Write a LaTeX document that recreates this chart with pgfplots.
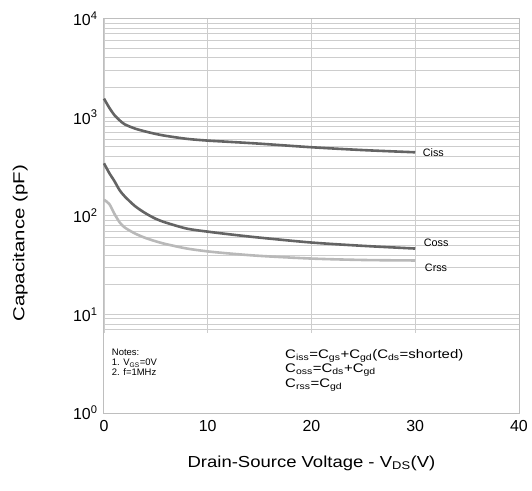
\documentclass[border=0pt]{standalone}
\usepackage{fontspec}
\setmainfont{Liberation Sans}
\usepackage{graphicx}
\usepackage{pgfplots}
\pgfplotsset{compat=1.18}

\definecolor{gridgray}{RGB}{205,205,205}
\definecolor{boxgray}{RGB}{190,190,190}
\definecolor{darkcurve}{RGB}{100,100,100}
\definecolor{lightcurve}{RGB}{185,185,185}

\begin{document}
\begin{tikzpicture}
\begin{semilogyaxis}[
    at={(0,0)}, anchor=south west,
    scale only axis,
    width=415bp, height=394.5bp,
    xmin=0, xmax=40, ymin=1, ymax=10000,
    xtick={0,10,20,30,40},
    ytick={1,10,100,1000,10000},
    yticklabels={10\textsuperscript{0},10\textsuperscript{1},10\textsuperscript{2},10\textsuperscript{3},10\textsuperscript{4}},
    /pgf/number format/assume math mode=true,
    tick label style={font=\fontsize{16}{18}\selectfont},
    major tick length=0pt, minor tick length=0pt,
    xmajorgrids, ymajorgrids, yminorgrids,
    grid style={gridgray, line width=0.8bp},
    minor grid style={gridgray, line width=0.8bp},
    axis line style={boxgray, line width=1bp},
    xlabel={\scalebox{1.16}[1]{Drain-Source Voltage - V\textsubscript{DS}(V)}},
    ylabel={\scalebox{1.28}[1]{Capacitance (pF)}},
    label style={font=\fontsize{16}{18}\selectfont},
    xlabel style={at={(axis description cs:0.5,-0.127)}, anchor=center},
    ylabel style={at={(axis description cs:-0.202,0.43)}, anchor=center},
    xticklabel style={yshift=-4bp},
    yticklabel style={xshift=-3bp},
    clip=false,
]

% white notes box covering the grid
\fill[white] (axis cs:0,1) rectangle (axis cs:40,6.5);
\draw[boxgray, line width=1bp] (rel axis cs:0,0) rectangle (rel axis cs:1,1);

% Ciss
\addplot[darkcurve, line width=2.6bp, smooth, tension=0.5] coordinates {
(0,1540) (0.5,1250) (1,1050) (1.5,930) (2,845) (3,765) (4,715) (5,675)
(6,645) (8,602) (10,578) (12,562) (15,538) (20,495) (25,463) (30,440)
};
% Coss
\addplot[darkcurve, line width=2.6bp, smooth, tension=0.5] coordinates {
(0,340) (0.5,272) (1,225) (1.5,182) (2,157) (3,125) (4,106) (5,93)
(6,85) (8,74) (10,69) (12,65) (15,60) (20,53.5) (25,49.5) (30,46.5)
};
% Crss
\addplot[lightcurve, line width=2.6bp, smooth, tension=0.5] coordinates {
(0,145) (0.5,132) (1,105) (1.5,86) (2,76) (3,66) (4,59.5) (5,55)
(6,51.5) (8,46.5) (10,43.5) (12,41.5) (15,39.2) (20,36.8) (25,35.6) (30,35.2)
};

\node[anchor=west, font=\fontsize{10.8}{12}\selectfont] at (axis cs:30.4,436) {Ciss};
\node[anchor=west, font=\fontsize{10.8}{12}\selectfont] at (axis cs:30.5,53) {Coss};
\node[anchor=west, font=\fontsize{10.8}{12}\selectfont] at (axis cs:30.6,29.5) {Crss};

\node[anchor=west, font=\fontsize{9.5}{11}\selectfont, inner sep=0pt] at (axis cs:0.75,4.15) {Notes:};
\node[anchor=west, font=\fontsize{9.5}{11}\selectfont, inner sep=0pt] at (axis cs:0.75,3.21) {1. V\textsubscript{GS}=0V};
\node[anchor=west, font=\fontsize{9.5}{11}\selectfont, inner sep=0pt] at (axis cs:0.75,2.6) {2. f=1MHz};

\node[anchor=west, font=\fontsize{12.5}{14}\selectfont, inner sep=0pt] at (axis cs:17.45,3.78) {\scalebox{1.2}[1]{C\textsubscript{iss}=C\textsubscript{gs}+C\textsubscript{gd}(C\textsubscript{ds}=shorted)}};
\node[anchor=west, font=\fontsize{12.5}{14}\selectfont, inner sep=0pt] at (axis cs:17.45,2.73) {\scalebox{1.2}[1]{C\textsubscript{oss}=C\textsubscript{ds}+C\textsubscript{gd}}};
\node[anchor=west, font=\fontsize{12.5}{14}\selectfont, inner sep=0pt] at (axis cs:17.45,1.92) {\scalebox{1.2}[1]{C\textsubscript{rss}=C\textsubscript{gd}}};
\end{semilogyaxis}
\path (-104bp,-78bp) rectangle (428bp,413bp);
\end{tikzpicture}
\end{document}
